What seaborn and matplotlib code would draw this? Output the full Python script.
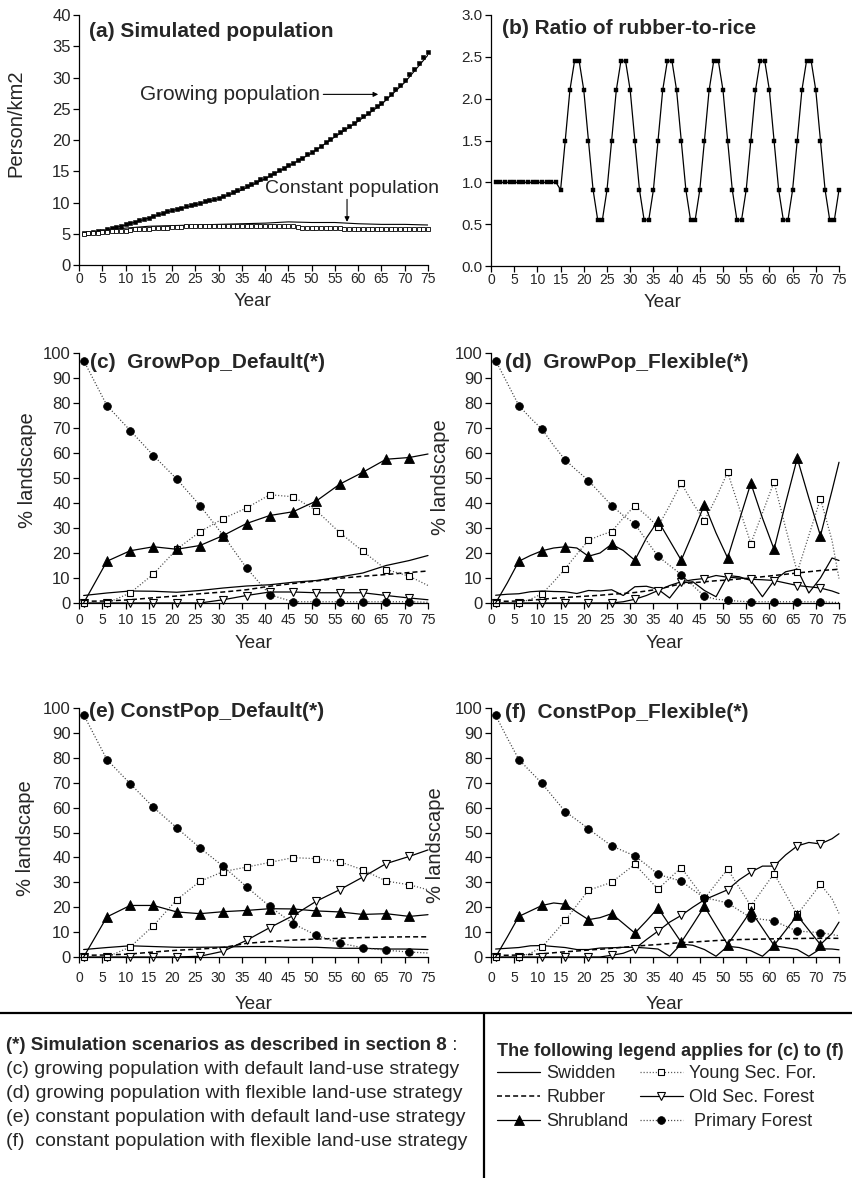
import matplotlib
matplotlib.use('Agg')
import numpy as np
import matplotlib.pyplot as plt
import seaborn as sns
from matplotlib.lines import Line2D

W, H = 853, 1178

# ---------------- data ----------------
YEARS = list(range(1, 76))

# (a) simulated population, person/km2
GROW_POP = [5.1, 5.2, 5.3, 5.4, 5.5, 5.7, 5.9, 6.1, 6.3, 6.5,
            6.7, 6.9, 7.2, 7.4, 7.6, 7.9, 8.1, 8.3, 8.6, 8.8,
            9.0, 9.2, 9.4, 9.6, 9.8, 10.0, 10.2, 10.4, 10.6, 10.8,
            11.1, 11.4, 11.7, 12.0, 12.3, 12.6, 13.0, 13.3, 13.7, 14.0,
            14.4, 14.8, 15.2, 15.6, 16.0, 16.4, 16.8, 17.2, 17.7, 18.1,
            18.6, 19.1, 19.7, 20.2, 20.8, 21.3, 21.8, 22.3, 22.8, 23.3,
            23.8, 24.3, 24.9, 25.4, 26.0, 26.7, 27.4, 28.1, 28.8, 29.6,
            30.5, 31.4, 32.3, 33.2, 34.1]
CONST_POP = [5.0, 5.1, 5.2, 5.2, 5.3, 5.3, 5.4, 5.4, 5.5, 5.5,
             5.6, 5.7, 5.7, 5.8, 5.8, 5.9, 5.9, 6.0, 6.0, 6.1,
             6.1, 6.1, 6.2, 6.2, 6.2, 6.2, 6.2, 6.2, 6.3, 6.3,
             6.2, 6.3, 6.3, 6.3, 6.3, 6.3, 6.3, 6.3, 6.3, 6.3,
             6.3, 6.3, 6.3, 6.3, 6.3, 6.2, 6.1, 6.0, 6.0, 5.9,
             5.9, 5.9, 5.9, 5.9, 5.9, 5.9, 5.8, 5.8, 5.8, 5.8,
             5.8, 5.8, 5.7, 5.7, 5.7, 5.7, 5.7, 5.7, 5.7, 5.7,
             5.7, 5.7, 5.7, 5.7, 5.7]
YEARS_A_LINE = [1, 5, 10, 15, 20, 25, 30, 35, 40, 45, 50, 55, 60, 65, 70, 75]
GROW_POP_LINE = [5.0, 5.4, 6.4, 7.5, 8.7, 9.6, 10.6, 12.0, 13.8, 15.8, 17.9, 20.5, 23.0, 25.7, 29.2, 33.6]
CONST_POP_LINE = [5.0, 5.5, 5.9, 6.2, 6.3, 6.4, 6.5, 6.6, 6.7, 6.9, 6.8, 6.8, 6.6, 6.5, 6.5, 6.4]

# (b) ratio of rubber-to-rice
RATIO = [1.0, 1.0, 1.0, 1.0, 1.0, 1.0, 1.0, 1.0, 1.0, 1.0, 1.0, 1.0, 1.0, 1.0,
         0.91, 1.5, 2.1, 2.45, 2.45, 2.1, 1.5, 0.91, 0.55, 0.55,
         0.91, 1.5, 2.1, 2.45, 2.45, 2.1, 1.5, 0.91, 0.55, 0.55,
         0.91, 1.5, 2.1, 2.45, 2.45, 2.1, 1.5, 0.91, 0.55, 0.55,
         0.91, 1.5, 2.1, 2.45, 2.45, 2.1, 1.5, 0.91, 0.55, 0.55,
         0.91, 1.5, 2.1, 2.45, 2.45, 2.1, 1.5, 0.91, 0.55, 0.55,
         0.91, 1.5, 2.1, 2.45, 2.45, 2.1, 1.5, 0.91, 0.55, 0.55,
         0.91]

# (c) and (e): values every 5 years
YEARS_5 = [1, 6, 11, 16, 21, 26, 31, 36, 41, 46, 51, 56, 61, 66, 71, 75]
C_SWIDDEN = [3.0, 4.0, 4.8, 4.7, 4.3, 5.0, 6.0, 6.8, 7.3, 8.3, 9.0, 10.4, 12.0, 15.0, 17.0, 19.0]
C_RUBBER = [0.7, 0.8, 1.3, 2.1, 2.8, 3.7, 4.4, 5.3, 6.7, 7.8, 8.8, 9.9, 10.7, 11.4, 12.2, 12.8]
C_SHRUB = [0.0, 16.7, 20.9, 22.5, 21.5, 23.0, 27.0, 31.8, 35.0, 36.5, 40.8, 47.5, 52.3, 57.5, 58.2, 59.6]
C_YOUNG = [0.0, 0.0, 4.0, 11.6, 21.5, 28.5, 33.8, 38.0, 43.3, 42.5, 37.0, 28.2, 20.7, 13.4, 10.7, 7.0]
C_OLD = [0.0, 0.0, 0.0, 0.0, 0.0, 0.0, 1.3, 3.0, 4.4, 4.4, 4.1, 4.1, 4.1, 3.0, 2.0, 1.3]
C_PRIMARY = [97.0, 79.0, 69.0, 59.0, 49.6, 39.0, 27.0, 14.0, 3.3, 0.5, 0.5, 0.5, 0.5, 0.5, 0.5, 0.3]

E_SWIDDEN = [3.0, 3.8, 4.5, 4.2, 3.9, 3.9, 4.0, 4.2, 4.2, 3.9, 3.9, 3.5, 3.5, 3.2, 3.2, 3.0]
E_RUBBER = [0.7, 0.8, 1.2, 2.0, 2.7, 3.2, 3.8, 5.5, 6.2, 6.8, 7.2, 7.5, 7.8, 8.0, 8.1, 8.1]
E_SHRUB = [0.0, 16.1, 20.7, 20.7, 18.1, 17.4, 18.2, 18.7, 19.4, 19.3, 18.5, 18.1, 17.1, 17.4, 16.3, 17.0]
E_YOUNG = [0.0, 0.0, 4.0, 12.6, 23.0, 30.4, 34.3, 36.1, 38.0, 39.9, 39.5, 38.3, 35.0, 30.5, 29.0, 27.0]
E_OLD = [0.0, 0.0, 0.0, 0.0, 0.0, 0.3, 2.3, 6.7, 11.8, 16.6, 22.4, 27.0, 32.1, 37.5, 40.4, 43.0]
E_PRIMARY = [97.3, 79.3, 69.6, 60.1, 51.9, 43.8, 36.4, 28.2, 20.3, 13.4, 8.7, 5.6, 3.7, 2.7, 2.0, 1.6]

# (d) and (f): values every 2.5 years
YEARS_25 = [1, 3.5, 6, 8.5, 11, 13.5, 16, 18.5, 21, 23.5, 26, 28.5, 31, 33.5, 36, 38.5,
            41, 43.5, 46, 48.5, 51, 53.5, 56, 58.5, 61, 63.5, 66, 68.5, 71, 73.5, 75]
D_SWIDDEN = [3.1, 3.5, 3.7, 4.5, 4.8, 4.6, 4.5, 3.8, 5.0, 4.8, 5.3, 3.0, 6.5, 6.7, 5.5, 2.0,
             8.0, 8.5, 5.0, 2.5, 11.0, 10.5, 9.0, 2.5, 9.0, 12.5, 13.5, 4.0, 10.0, 18.0, 17.0]
D_RUBBER = [0.7, 0.7, 0.8, 1.1, 1.5, 1.9, 2.2, 2.5, 2.8, 3.1, 3.5, 3.8, 4.2, 4.8, 5.5, 6.6,
            7.7, 8.1, 8.5, 8.9, 9.2, 9.6, 10.0, 10.5, 11.0, 11.5, 12.0, 12.5, 13.0, 13.3, 13.5]
D_SHRUB = [0.0, 8.0, 16.7, 19.0, 20.9, 22.0, 22.5, 22.0, 18.7, 20.0, 23.5, 21.0, 17.1, 26.0, 32.9, 25.0,
           17.1, 28.0, 39.4, 28.0, 18.0, 33.0, 47.9, 34.0, 21.5, 40.0, 57.9, 42.0, 26.9, 45.0, 56.3]
D_YOUNG = [0.0, 0.0, 0.0, 1.5, 3.7, 8.5, 13.8, 19.5, 25.1, 27.0, 28.6, 34.0, 38.9, 35.0, 30.5, 39.0,
           47.9, 40.0, 32.9, 42.0, 52.3, 38.0, 23.8, 36.0, 48.4, 30.0, 12.4, 27.0, 41.7, 25.0, 9.8]
D_OLD = [0.0, 0.0, 0.0, 0.0, 0.0, 0.0, 0.0, 0.0, 0.0, 0.0, 0.0, 0.5, 1.5, 3.0, 5.0, 7.0,
         8.5, 9.3, 9.8, 11.0, 10.3, 10.0, 9.5, 9.3, 9.0, 8.0, 7.0, 6.5, 6.0, 4.8, 3.8]
D_PRIMARY = [97.0, 88.0, 79.0, 74.0, 69.5, 63.0, 57.2, 53.0, 49.0, 44.0, 39.0, 35.0, 31.7, 25.0, 18.7, 15.0,
             11.4, 7.0, 2.7, 1.5, 1.1, 0.7, 0.5, 0.5, 0.5, 0.5, 0.5, 0.5, 0.5, 0.3, 0.2]

F_SWIDDEN = [3.2, 3.5, 3.8, 4.5, 4.6, 4.2, 3.8, 3.0, 3.0, 3.6, 3.7, 3.9, 3.9, 3.6, 3.2, 0.3,
             5.2, 4.7, 3.0, 0.3, 4.3, 3.8, 2.5, 0.3, 4.5, 3.8, 3.0, 0.3, 3.3, 3.2, 2.9]
F_RUBBER = [0.7, 0.7, 0.8, 1.0, 1.3, 1.7, 2.1, 2.4, 2.8, 3.1, 3.5, 3.9, 4.3, 4.7, 5.0, 5.4,
            5.8, 6.0, 6.3, 6.6, 6.8, 7.0, 7.1, 7.2, 7.3, 7.4, 7.4, 7.5, 7.5, 7.5, 7.5]
F_SHRUB = [0.0, 8.0, 16.3, 18.5, 20.7, 21.7, 21.2, 18.0, 15.0, 15.8, 17.4, 13.5, 9.6, 14.5, 19.7, 12.8,
           5.9, 13.0, 20.3, 12.6, 5.0, 11.7, 18.5, 11.6, 4.7, 10.7, 16.7, 10.8, 5.0, 9.5, 14.0]
F_YOUNG = [0.0, 0.0, 0.0, 1.5, 4.0, 9.3, 14.7, 20.8, 26.8, 28.4, 30.0, 33.6, 37.2, 32.2, 27.3, 31.6,
           35.9, 29.6, 23.5, 29.4, 35.3, 27.9, 20.5, 27.0, 33.5, 25.3, 17.1, 23.1, 29.2, 23.4, 17.5]
F_OLD = [0.0, 0.0, 0.0, 0.0, 0.0, 0.0, 0.0, 0.0, 0.0, 0.0, 0.7, 1.5, 3.3, 7.0, 10.4, 14.0,
         16.7, 20.0, 23.0, 25.0, 27.0, 31.0, 34.1, 36.5, 36.5, 41.0, 44.6, 46.0, 45.4, 47.5, 49.5]
F_PRIMARY = [97.0, 88.0, 79.3, 74.5, 69.7, 64.0, 58.4, 55.0, 51.5, 48.0, 44.6, 42.6, 40.6, 37.0, 33.2, 31.8,
             30.5, 27.0, 23.8, 22.8, 21.7, 18.7, 15.8, 15.1, 14.5, 12.4, 10.4, 10.1, 9.8, 9.0, 8.5]

LAND_USES = ['Swidden', 'Rubber', 'Shrubland', 'Young Sec. For.', 'Old Sec. Forest', 'Primary Forest']
LEGEND_LABELS = ['Swidden', 'Rubber', 'Shrubland', 'Young Sec. For.', 'Old Sec. Forest', ' Primary Forest']

# ---------------- style ----------------
sns.set_style('ticks')
plt.rcParams['font.family'] = ['Liberation Sans', 'DejaVu Sans']
plt.rcParams['axes.linewidth'] = 0.9
plt.rcParams['lines.scale_dashes'] = False

DOT = (0, (0.8, 1.4))
STYLES = {
    'Swidden': dict(color='black', linewidth=0.9),
    'Rubber': dict(color='black', linewidth=1.1, linestyle=(0, (3.6, 2.2))),
    'Shrubland': dict(color='black', linewidth=0.9, marker='^', markersize=6.5,
                      markerfacecolor='black', markeredgecolor='black', markeredgewidth=0.6),
    'Young Sec. For.': dict(color='#505050', linewidth=0.9, linestyle=DOT, marker='s', markersize=4.6,
                            markerfacecolor='white', markeredgecolor='black', markeredgewidth=0.8),
    'Old Sec. Forest': dict(color='black', linewidth=0.9, marker='v', markersize=5.4,
                            markerfacecolor='white', markeredgecolor='black', markeredgewidth=0.8),
    'Primary Forest': dict(color='#404040', linewidth=0.9, linestyle=DOT, marker='o', markersize=5.6,
                           markerfacecolor='black', markeredgecolor='black', markeredgewidth=0.5),
}
DRAW_ORDER = ['Swidden', 'Rubber', 'Old Sec. Forest', 'Young Sec. For.', 'Shrubland', 'Primary Forest']

fig = plt.figure(figsize=(W / 100, H / 100), dpi=100)


def add_ax(left, top, right, bottom):
    return fig.add_axes([left / W, 1 - bottom / H, (right - left) / W, (bottom - top) / H])


def style_ax(ax, ymax, ystep, ysize=12, xpad=1.0, yfmt=None):
    ax.set_xlim(0, 75)
    ax.set_ylim(0, ymax)
    ax.set_xticks(range(0, 76, 5))
    ax.set_yticks(np.arange(0, ymax + ystep / 2, ystep))
    if yfmt:
        ax.set_yticklabels([yfmt.format(v) for v in np.arange(0, ymax + ystep / 2, ystep)])
    sns.despine(ax=ax)
    ax.tick_params(axis='both', direction='out', length=4, width=0.9, color='black')
    ax.tick_params(axis='x', labelsize=10, pad=xpad)
    ax.tick_params(axis='y', labelsize=ysize, pad=2)
    for s in ax.spines.values():
        s.set_color('black')


def set_labels(ax, ylabel, ycoord, xcoord):
    ax.set_xlabel('Year', fontsize=13.5)
    ax.xaxis.set_label_coords(*xcoord)
    if ylabel:
        ax.set_ylabel(ylabel, fontsize=14.5)
        ax.yaxis.set_label_coords(*ycoord)


# ---- (a) ----
ax_a = add_ax(79, 15, 428, 265)
sns.lineplot(x=YEARS_A_LINE, y=GROW_POP_LINE, ax=ax_a, color='black', linewidth=0.8,
             estimator=None, errorbar=None, legend=False)
sns.lineplot(x=YEARS_A_LINE, y=CONST_POP_LINE, ax=ax_a, color='black', linewidth=0.8,
             estimator=None, errorbar=None, legend=False)
sns.lineplot(x=YEARS, y=GROW_POP, ax=ax_a, color='black', linestyle='none', marker='s',
             markersize=3.2, markerfacecolor='black', markeredgecolor='black', markeredgewidth=0.4,
             estimator=None, errorbar=None, legend=False, clip_on=False)
sns.lineplot(x=YEARS, y=CONST_POP, ax=ax_a, color='black', linestyle='none', marker='s',
             markersize=3.2, markerfacecolor='white', markeredgecolor='black', markeredgewidth=0.6,
             estimator=None, errorbar=None, legend=False, clip_on=False)
style_ax(ax_a, 40, 5, ysize=12, xpad=1.0)
set_labels(ax_a, 'Person/km2', (-0.155, 0.566), (0.496, -0.112))
ax_a.text(0.029, 0.935, '(a) Simulated population', transform=ax_a.transAxes,
          fontsize=15, fontweight='bold', va='center', ha='left')
ax_a.annotate('Growing population', xy=(64.3, 27.3), xytext=(51.8, 27.3),
              ha='right', va='center', fontsize=15,
              arrowprops=dict(arrowstyle='-|>', color='black', lw=0.8,
                              mutation_scale=7, shrinkA=0, shrinkB=0))
ax_a.text(40, 12.2, 'Constant population', ha='left', va='center', fontsize=14, clip_on=False)
ax_a.annotate('', xy=(57.6, 6.9), xytext=(57.6, 10.5),
              arrowprops=dict(arrowstyle='-|>', color='black', lw=0.8,
                              mutation_scale=7, shrinkA=0, shrinkB=0))

# ---- (b) ----
ax_b = add_ax(491, 15, 839, 266)
sns.lineplot(x=YEARS, y=RATIO, ax=ax_b, color='black', linewidth=0.9, marker='s',
             markersize=2.8, markerfacecolor='black', markeredgecolor='black', markeredgewidth=0.3,
             estimator=None, errorbar=None, legend=False, clip_on=False)
style_ax(ax_b, 3.0, 0.5, ysize=11, xpad=1.0, yfmt='{:.1f}')
set_labels(ax_b, None, None, (0.494, -0.112))
ax_b.text(0.031, 0.948, '(b) Ratio of rubber-to-rice', transform=ax_b.transAxes,
          fontsize=15, fontweight='bold', va='center', ha='left')

# ---- (c)-(f) ----
PANELS = [
    ((79, 353, 428, 603), YEARS_5,
     [C_SWIDDEN, C_RUBBER, C_SHRUB, C_YOUNG, C_OLD, C_PRIMARY],
     '(c)  GrowPop_Default(*)', (0.0315, 0.962), (-0.12, 0.532), (0.5, -0.13), 3.5),
    ((491, 353, 839, 603), YEARS_25,
     [D_SWIDDEN, D_RUBBER, D_SHRUB, D_YOUNG, D_OLD, D_PRIMARY],
     '(d)  GrowPop_Flexible(*)', (0.04, 0.96), (-0.118, 0.502), (0.5, -0.13), 3.5),
    ((79, 708, 428, 957), YEARS_5,
     [E_SWIDDEN, E_RUBBER, E_SHRUB, E_YOUNG, E_OLD, E_PRIMARY],
     '(e) ConstPop_Default(*)', (0.03, 0.984), (-0.126, 0.478), (0.5, -0.155), 6.0),
    ((491, 708, 839, 957), YEARS_25,
     [F_SWIDDEN, F_RUBBER, F_SHRUB, F_YOUNG, F_OLD, F_PRIMARY],
     '(f)  ConstPop_Flexible(*)', (0.04, 0.98), (-0.132, 0.45), (0.5, -0.155), 6.0),
]

legend_handles = None
for box, years, series, title, tpos, ycoord, xcoord, xpad in PANELS:
    ax = add_ax(*box)
    data = dict(zip(LAND_USES, series))
    if len(years) == len(YEARS_5):
        marks_all, marks_shrub = slice(0, 15), slice(1, 15)
    else:
        marks_all, marks_shrub = slice(0, 29, 2), slice(2, 29, 2)
    handles = {}
    for name in DRAW_ORDER:
        kw = dict(STYLES[name])
        if 'marker' in kw:
            kw['markevery'] = marks_shrub if name == 'Shrubland' else marks_all
        sns.lineplot(x=years, y=data[name], ax=ax, estimator=None, errorbar=None,
                     legend=False, clip_on=False, **kw)
        handles[name] = ax.lines[-1]
    if legend_handles is None:
        legend_handles = [handles[n] for n in LAND_USES]
    style_ax(ax, 100, 10, ysize=12, xpad=xpad)
    set_labels(ax, '% landscape', ycoord, xcoord)
    ax.text(tpos[0], tpos[1], title, transform=ax.transAxes, fontsize=15,
            fontweight='bold', va='center', ha='left')

# ---------------- bottom box ----------------
fig.add_artist(Line2D([0, 1], [1 - 1013 / H] * 2, transform=fig.transFigure, color='black', lw=1.6))
fig.add_artist(Line2D([484 / W] * 2, [0, 1 - 1013 / H], transform=fig.transFigure, color='black', lw=1.6))

head = fig.text(6 / W, 1 - 1046 / H, '(*) Simulation scenarios as described in section 8',
                fontsize=13.5, fontweight='bold', va='center', ha='left')
ax_a.annotate(' :', xy=(1, 0.5), xycoords=head, fontsize=13.5, va='center', ha='left',
              annotation_clip=False)
SCENARIO_LINES = ['(c) growing population with default land-use strategy',
                  '(d) growing population with flexible land-use strategy',
                  '(e) constant population with default land-use strategy',
                  '(f)  constant population with flexible land-use strategy']
for i, line in enumerate(SCENARIO_LINES):
    fig.text(6 / W, 1 - (1069 + 24 * i) / H, line, fontsize=14, va='center', ha='left')

fig.text(497 / W, 1 - 1052 / H, 'The following legend applies for (c) to (f)',
         fontsize=13, fontweight='bold', va='center', ha='left')
fig.legend(legend_handles, LEGEND_LABELS, ncol=2, loc='upper left',
           bbox_to_anchor=(497 / W, 1 - 1065 / H), frameon=False, fontsize=13,
           handlelength=2.4, handletextpad=0.35, columnspacing=0.6, labelspacing=0.4,
           borderaxespad=0, borderpad=0)

fig.savefig('out.png', dpi=100)
